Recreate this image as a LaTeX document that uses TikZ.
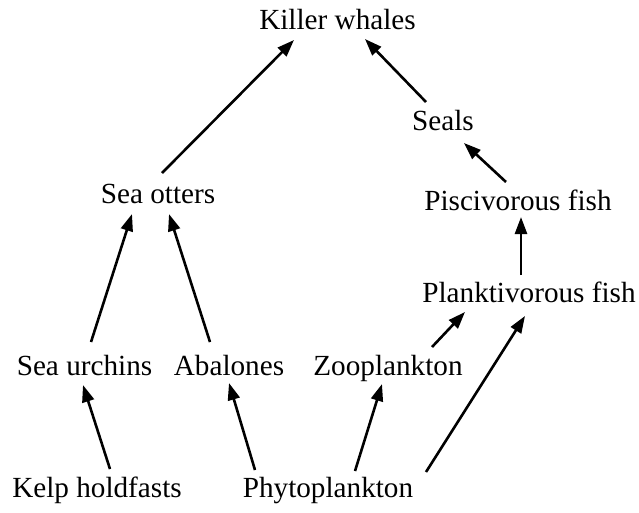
\documentclass[tikz,border=0pt]{standalone}
\usepackage{fontspec}
\setmainfont{Liberation Serif}
\usetikzlibrary{arrows.meta,calc}
\begin{document}
\begin{tikzpicture}[x=1pt,y=-1pt,
  lbl/.style={anchor=base,inner sep=0pt,font=\fontsize{29.2}{34}\selectfont},
  feed/.style={line width=2.6pt,-{Triangle[length=17pt,width=12pt]}}]
\useasboundingbox (0,0) rectangle (639,512);
\node[lbl] (kw) at (337.5,29) {Killer whales};
\node[lbl] (seals) at (443,130) {Seals};
\node[lbl] (so) at (158,203) {Sea otters};
\node[lbl] (pisc) at (518,210) {Piscivorous fish};
\node[lbl] (plank) at (529,302) {Planktivorous fish};
\node[lbl] (su) at (84.5,375) {Sea urchins};
\node[lbl] (ab) at (229,375) {Abalones};
\node[lbl] (zoo) at (388,375) {Zooplankton};
\node[lbl] (kh) at (97,497) {Kelp holdfasts};
\node[lbl] (phy) at (328,497) {Phytoplankton};
\draw[feed] ($(kh.base)+(13,-28)$) -- ($(su.base)+(-1.5,10)$);
\draw[feed] ($(phy.base)+(-73,-27)$) -- ($(ab.base)+(0,8)$);
\draw[feed] ($(phy.base)+(27,-26)$) -- ($(zoo.base)+(-6,9)$);
\draw[feed] ($(phy.base)+(98,-25)$) -- ($(plank.base)+(-4,14)$);
\draw[feed] ($(zoo.base)+(44,-28)$) -- ($(plank.base)+(-64,10)$);
\draw[feed] ($(plank.base)+(-8,-27)$) -- ($(pisc.base)+(3,7)$);
\draw[feed] ($(pisc.base)+(-12,-28)$) -- ($(seals.base)+(21,13)$);
\draw[feed] ($(seals.base)+(-17,-28)$) -- ($(kw.base)+(27.5,10)$);
\draw[feed] ($(so.base)+(4,-30)$) -- ($(kw.base)+(-43.5,11)$);
\draw[feed] ($(su.base)+(6.5,-33)$) -- ($(so.base)+(-26,11)$);
\draw[feed] ($(ab.base)+(-19,-33)$) -- ($(so.base)+(11,11)$);
\end{tikzpicture}
\end{document}
